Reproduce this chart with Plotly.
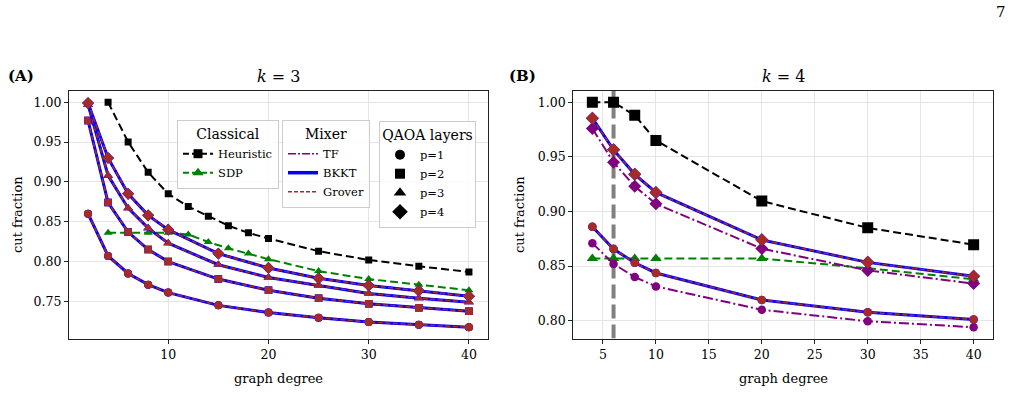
import plotly.graph_objects as go

# ---------------- data ----------------
# k = 3 panel
deg3 = [2, 4, 6, 8, 10, 15, 20, 25, 30, 35, 40]
qaoa3_p1 = [0.860, 0.807, 0.785, 0.771, 0.761, 0.745, 0.736, 0.7295, 0.724, 0.7207, 0.7175]
qaoa3_p2 = [0.977, 0.874, 0.837, 0.815, 0.800, 0.778, 0.764, 0.754, 0.747, 0.742, 0.7375]
qaoa3_p3 = [0.997, 0.908, 0.867, 0.842, 0.823, 0.796, 0.780, 0.770, 0.760, 0.754, 0.749]
qaoa3_p4 = [0.999, 0.930, 0.885, 0.858, 0.840, 0.810, 0.792, 0.779, 0.770, 0.7635, 0.7565]
cdeg3 = [4, 6, 8, 10, 12, 14, 16, 18, 20, 25, 30, 35, 40]
heur3 = [1.000, 0.950, 0.912, 0.885, 0.869, 0.857, 0.845, 0.836, 0.829, 0.813, 0.802, 0.794, 0.787]
sdp3 = [0.836, 0.836, 0.836, 0.836, 0.834, 0.8245, 0.8166, 0.810, 0.803, 0.788, 0.778, 0.771, 0.764]

# k = 4 panel
deg4 = [4, 6, 8, 10, 20, 30, 40]
heur4 = [1.000, 1.000, 0.988, 0.965, 0.9095, 0.885, 0.8696]
sdp4 = [0.857, 0.857, 0.857, 0.857, 0.857, 0.848, 0.838]
grover4_p1 = [0.886, 0.8656, 0.853, 0.8437, 0.819, 0.8077, 0.801]
tf4_p1 = [0.871, 0.852, 0.840, 0.8314, 0.810, 0.7995, 0.794]
grover4_p4 = [0.9854, 0.9564, 0.934, 0.9174, 0.874, 0.8534, 0.8406]
tf4_p4 = [0.976, 0.945, 0.923, 0.907, 0.866, 0.846, 0.834]
cutoff_deg4 = 6

FONT = "DejaVu Serif"
BLACK, GREEN, PURPLE, BLUE, BROWN = "#000000", "#008000", "#800080", "#0000ff", "#a52a2a"

YR3 = [0.7034, 1.0141]
YR4 = [0.7837, 1.0103]

fig = go.Figure()

# vertical reference line (drawn first so it sits beneath the curves)
fig.add_trace(go.Scatter(x=[cutoff_deg4, cutoff_deg4], y=YR4, mode="lines", xaxis="x2", yaxis="y2",
                         line=dict(color="#808080", width=4, dash="14px,6px"),
                         hoverinfo="skip", showlegend=False))

def qaoa(x, y, sym, xa, ya, size=8, tf_y=None):
    ty = y if tf_y is None else tf_y
    fig.add_trace(go.Scatter(x=x, y=ty, mode="lines+markers", xaxis=xa, yaxis=ya,
                             line=dict(color=PURPLE, width=2, dash="10px,3px,2px,3px"),
                             marker=dict(symbol=sym, size=size, color=PURPLE), showlegend=False))
    fig.add_trace(go.Scatter(x=x, y=y, mode="lines+markers", xaxis=xa, yaxis=ya,
                             line=dict(color=BLUE, width=3),
                             marker=dict(symbol=sym, size=size, color=BLUE), showlegend=False))
    fig.add_trace(go.Scatter(x=x, y=y, mode="lines+markers", xaxis=xa, yaxis=ya,
                             line=dict(color=BROWN, width=1.6, dash="5px,2.5px"),
                             marker=dict(symbol=sym, size=size, color=BROWN), showlegend=False))

# ---- left panel ----
fig.add_trace(go.Scatter(x=cdeg3, y=heur3, mode="lines+markers", xaxis="x", yaxis="y",
                         line=dict(color=BLACK, width=2, dash="8px,4px"),
                         marker=dict(symbol="square", size=7, color=BLACK), showlegend=False))
fig.add_trace(go.Scatter(x=cdeg3, y=sdp3, mode="lines+markers", xaxis="x", yaxis="y",
                         line=dict(color=GREEN, width=2, dash="8px,4px"),
                         marker=dict(symbol="triangle-up", size=8, color=GREEN), showlegend=False))
qaoa(deg3, qaoa3_p1, "circle", "x", "y", 8)
qaoa(deg3, qaoa3_p2, "square", "x", "y", 7.5)
qaoa(deg3, qaoa3_p3, "triangle-up", "x", "y", 8.5)
qaoa(deg3, qaoa3_p4, "diamond", "x", "y", 9)

# ---- right panel ----
fig.add_trace(go.Scatter(x=deg4, y=heur4, mode="lines+markers", xaxis="x2", yaxis="y2",
                         line=dict(color=BLACK, width=2, dash="8px,4px"),
                         marker=dict(symbol="square", size=11, color=BLACK), showlegend=False))
fig.add_trace(go.Scatter(x=deg4, y=sdp4, mode="lines+markers", xaxis="x2", yaxis="y2",
                         line=dict(color=GREEN, width=2, dash="8px,4px"),
                         marker=dict(symbol="triangle-up", size=10, color=GREEN), showlegend=False))
qaoa(deg4, grover4_p1, "circle", "x2", "y2", 8.5, tf_y=tf4_p1)
qaoa(deg4, grover4_p4, "diamond", "x2", "y2", 10, tf_y=tf4_p4)

# ---- legends (dummy traces) ----
def leg(name, legend, mode, color, dash=None, width=2, sym=None, size=8):
    fig.add_trace(go.Scatter(x=[None], y=[None], mode=mode, name=name, legend=legend,
                             line=dict(color=color, width=width, dash=dash),
                             marker=dict(symbol=sym or "circle", size=size, color=color),
                             showlegend=True, xaxis="x", yaxis="y"))

leg("Heuristic", "legend", "lines+markers", BLACK, "6px,3px", 2, "square", 9)
leg("SDP", "legend", "lines+markers", GREEN, "6px,3px", 2, "triangle-up", 10)
leg("TF", "legend2", "lines", PURPLE, "8px,2px,2px,2px", 1.5)
leg("BKKT", "legend2", "lines", BLUE, None, 3.5)
leg("Grover", "legend2", "lines", BROWN, "4px,2px", 1.5)
leg("p=1", "legend3", "markers", BLACK, sym="circle", size=10)
leg("p=2", "legend3", "markers", BLACK, sym="square", size=10)
leg("p=3", "legend3", "markers", BLACK, sym="triangle-up", size=11)
leg("p=4", "legend3", "markers", BLACK, sym="diamond", size=12)

W, H = 1015, 394
def legcfg(title, left_px, top_px):
    return dict(title=dict(text=title, side="top center", font=dict(size=14, family=FONT)),
                x=left_px / W, y=1 - top_px / H, xanchor="left", yanchor="top",
                bgcolor="rgba(255,255,255,0.85)", bordercolor="#cccccc", borderwidth=1,
                font=dict(size=11.5, family=FONT, color="#000"), itemwidth=30,
                tracegroupgap=0, itemclick=False)

axis_common = dict(showline=True, linecolor="#222", linewidth=1.2, mirror=True,
                   ticks="outside", ticklen=4, tickcolor="#222", showgrid=True,
                   gridcolor="#e5e5e5", gridwidth=1, zeroline=False,
                   tickfont=dict(family=FONT, size=12.5, color="#000"))

ytop, ybot = 1 - 91 / H, 1 - 338.5 / H
fig.update_layout(
    width=W, height=H, margin=dict(l=0, r=0, t=0, b=0),
    paper_bgcolor="white", plot_bgcolor="white",
    font=dict(family=FONT, color="#000"),
    xaxis=dict(domain=[69 / W, 488 / W], range=[0.1, 41.9], tickvals=[10, 20, 30, 40],
               anchor="y", **axis_common),
    yaxis=dict(domain=[ybot, ytop], range=YR3, tickvals=[0.75, 0.80, 0.85, 0.90, 0.95, 1.00],
               tickformat=".2f", anchor="x", **axis_common),
    xaxis2=dict(domain=[573.3 / W, 992.7 / W], range=[2.2, 41.8], tickvals=[5, 10, 15, 20, 25, 30, 35, 40],
                anchor="y2", **axis_common),
    yaxis2=dict(domain=[ybot, ytop], range=YR4, tickvals=[0.80, 0.85, 0.90, 0.95, 1.00],
                tickformat=".2f", anchor="x2", **axis_common),
    legend=legcfg("Classical", 177, 120),
    legend2=legcfg("Mixer", 282, 120),
    legend3=legcfg("QAOA layers", 379, 121),
)

ann = dict(xref="paper", yref="paper", showarrow=False, font=dict(family=FONT, size=13, color="#000"))
big = dict(family=FONT, size=16, color="#000")
lab = dict(family=FONT, size=15, color="#000")
fig.add_annotation(text="7", x=1008 / W, y=1 - 12 / H, xanchor="right", yanchor="middle",
                   **{**ann, "font": dict(family=FONT, size=15, color="#000")})
fig.add_annotation(text="<b>(A)</b>", x=6 / W, y=1 - 76 / H, xanchor="left", yanchor="middle", **{**ann, "font": lab})
fig.add_annotation(text="<b>(B)</b>", x=507 / W, y=1 - 76 / H, xanchor="left", yanchor="middle", **{**ann, "font": lab})
fig.add_annotation(text="<i>k</i>&nbsp;=&nbsp;3", x=278.5 / W, y=1 - 76 / H, xanchor="center", yanchor="middle",
                   **{**ann, "font": big})
fig.add_annotation(text="<i>k</i>&nbsp;=&nbsp;4", x=783 / W, y=1 - 76 / H, xanchor="center", yanchor="middle",
                   **{**ann, "font": big})
fig.add_annotation(text="cut fraction", x=17 / W, y=1 - 215 / H, textangle=-90,
                   xanchor="center", yanchor="middle", **ann)
fig.add_annotation(text="cut fraction", x=519 / W, y=1 - 215 / H, textangle=-90,
                   xanchor="center", yanchor="middle", **ann)
fig.add_annotation(text="graph degree", x=278.5 / W, y=1 - 378 / H, xanchor="center", yanchor="middle", **ann)
fig.add_annotation(text="graph degree", x=783 / W, y=1 - 378 / H, xanchor="center", yanchor="middle", **ann)

fig.write_html("out.html")
